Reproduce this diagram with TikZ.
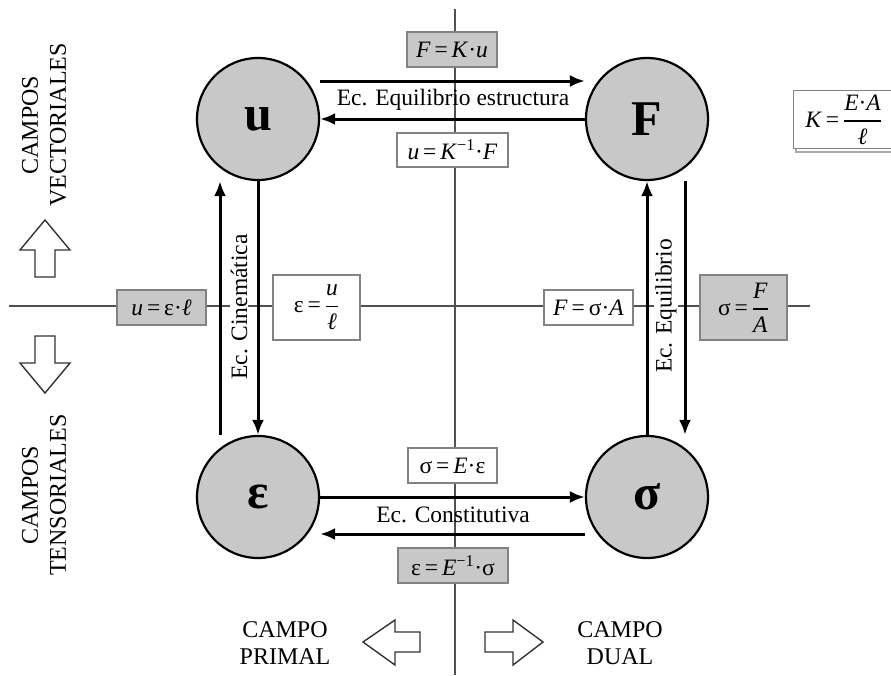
\documentclass[tikz,border=0pt]{standalone}
\usepackage{amsmath}
\usepackage{fontspec}
\setmainfont{Liberation Serif}
\usetikzlibrary{arrows.meta}
\definecolor{boxgray}{RGB}{200,200,200}
\definecolor{edgegray}{RGB}{130,130,130}
\definecolor{axisgray}{RGB}{80,80,80}
\newcommand{\myfr}[2]{\genfrac{}{}{1.4pt}{0}{\mbox{#1}}{\mbox{#2}}}
\begin{document}
\begin{tikzpicture}[x=1pt,y=-1pt,
  every node/.style={font=\fontsize{23.5}{27}\selectfont},
  circ/.style={circle,draw=black,line width=2.2pt,fill=boxgray,minimum size=122pt,inner sep=0pt,font=\fontsize{50}{52}\selectfont\bfseries},
  eqbox/.style={draw=edgegray,line width=1.4pt,inner sep=0pt},
  graybox/.style={eqbox,fill=boxgray},
  whitebox/.style={eqbox,fill=white},
  flow/.style={line width=3pt,-{Latex[length=15pt,width=12pt]}},
  axisline/.style={line width=1.4pt,draw=axisgray},
  hollow/.style={draw=black!80,line width=1.4pt,fill=white,line join=miter},
  side/.style={align=center,rotate=90,font=\fontsize{24}{28}\selectfont},
  bottomlbl/.style={align=center,font=\fontsize{24}{27}\selectfont}]
\useasboundingbox (0,0) rectangle (891,675);
% axes
\coordinate (vt) at (455,9);
\coordinate (vb) at (455,675);
\coordinate (hl) at (9,306);
\coordinate (hr) at (810,306);
\draw[axisline] (vt) -- (vb);
\draw[axisline] (hl) -- (hr);
% equation boxes
\node[graybox,minimum width=90pt,minimum height=35pt] (b1) at (452,49.5) {\textit{F}\,=\,\textit{K}·\textit{u}};
\node[whitebox,minimum width=111pt,minimum height=34pt] (b2) at (452.5,150) {\textit{u}\,=\,\textit{K}\textsuperscript{−1}·\textit{F}};
\node[graybox,minimum width=89pt,minimum height=35pt] (b3) at (161.5,307.5) {\textit{u}\,=\,ε·\textit{ℓ}};
\node[whitebox,minimum width=87pt,minimum height=65pt] (b4) at (316.5,307.5) {ε\,=\,$\myfr{\textit{u}}{\textit{ℓ}}$};
\node[whitebox,minimum width=89pt,minimum height=35pt] (b5) at (588.5,307.5) {\textit{F}\,=\,σ·\textit{A}};
\node[graybox,minimum width=87pt,minimum height=65pt] (b6) at (743.5,307.5) {σ\,=\,$\myfr{\textit{F}}{\textit{A}}$};
\node[whitebox,minimum width=89pt,minimum height=35pt] (b7) at (452.5,465.5) {σ\,=\,\textit{E}·ε};
\node[graybox,minimum width=110pt,minimum height=35pt] (b8) at (453,565.5) {ε\,=\,\textit{E}\textsuperscript{−1}·σ};
\draw[edgegray!70,line width=2pt] (796,94) -- (796,152) -- (895,152);
\node[whitebox,minimum width=100pt,minimum height=58pt,anchor=north west] (b9) at (793,90) {\textit{K}\,=\,$\myfr{\textit{E}·\textit{A}}{\textit{ℓ}}$};
% circles
\node[circ] (nu) at (258,119) {u};
\node[circ] (nF) at (647,119) {F};
\node[circ] (ne) at (258,497) {ε};
\node[circ] (ns) at (647,497) {σ};
% flows
\draw[flow] ([yshift=38pt]nu.east) -- ([yshift=38pt]nF.west);
\draw[flow] (nF.west) -- (nu.east);
\node (t1) at (453,100) {Ec. Equilibrio estructura};
\draw[flow] (ne.east) -- (ns.west);
\draw[flow] ([yshift=-37pt]ns.west) -- ([yshift=-37pt]ne.east);
\node (t2) at (453,515) {Ec. Constitutiva};
\draw[flow] (nu.south) -- (ne.north);
\draw[flow] ([xshift=-38pt]ne.north) -- ([xshift=-38pt]nu.south);
\node[rotate=90,fill=white,inner sep=1pt] (t3) at (239,307) {Ec. Cinemática};
\draw[flow] (ns.north) -- (nF.south);
\draw[flow] ([xshift=38pt]nF.south) -- ([xshift=38pt]ns.north);
\node[rotate=90,fill=white,inner sep=1pt] (t4) at (666,306) {Ec. Equilibrio};
% side labels
\node[side] (s1) at (44,125) {CAMPOS\\VECTORIALES};
\node[side] (s2) at (44,495) {CAMPOS\\TENSORIALES};
\node[bottomlbl] (s3) at (285,643) {CAMPO\\PRIMAL};
\node[bottomlbl] (s4) at (620,643) {CAMPO\\DUAL};
% hollow arrows
\draw[hollow] (45,220) -- (70,250) -- (55,250) -- (55,277) -- (35,277) -- (35,250) -- (20,250) -- cycle;
\draw[hollow] (45,393) -- (70,363) -- (55,363) -- (55,336) -- (35,336) -- (35,363) -- (20,363) -- cycle;
\draw[hollow] (363,642) -- (395,620) -- (395,632) -- (420,632) -- (420,652) -- (395,652) -- (395,665) -- cycle;
\draw[hollow] (543,642) -- (513,620) -- (513,632) -- (485,632) -- (485,652) -- (513,652) -- (513,665) -- cycle;
\end{tikzpicture}
\end{document}
